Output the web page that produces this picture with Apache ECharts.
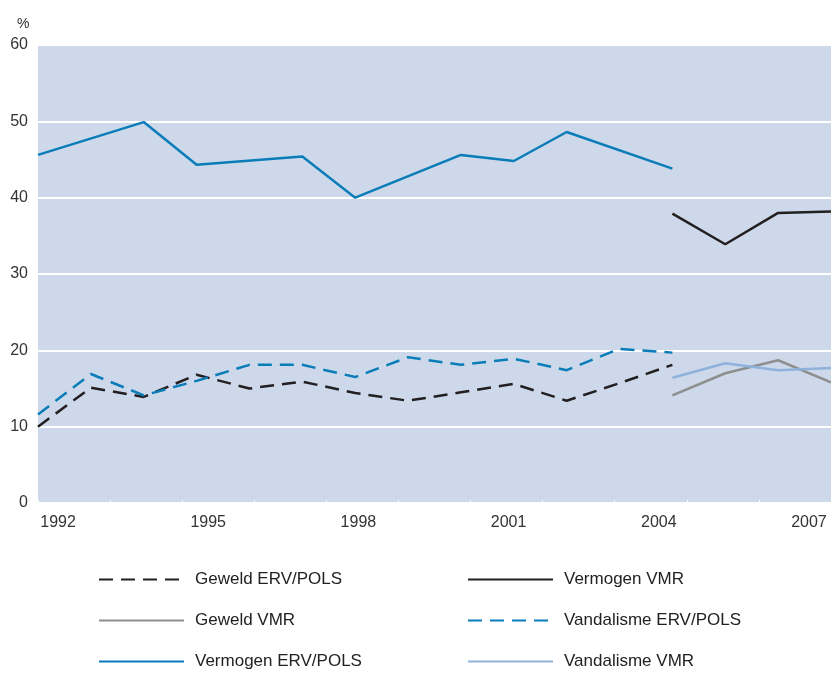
<!DOCTYPE html>
<html>
<head>
<meta charset="utf-8">
<script src="https://cdn.jsdelivr.net/npm/echarts@6/dist/echarts.min.js"></script>
<style>
  html, body { margin: 0; padding: 0; background: #fff; }
  #chart { width: 831px; height: 673px; }
</style>
</head>
<body>
<div id="chart"></div>
<script>
// ---- data ----
const years = [1992, 1993, 1994, 1995, 1996, 1997, 1998, 1999, 2000, 2001, 2002, 2003, 2004, 2005, 2006, 2007];
const geweldErv     = [10.0, 15.1, 13.9, 16.8, 15.0, 15.9, 14.4, 13.4, 14.5, 15.6, 13.4, 15.7, 18.1, null, null, null];
const vandalismeErv = [11.6, 16.9, 14.1, 16.0, 18.1, 18.1, 16.5, 19.1, 18.1, 18.9, 17.4, 20.2, 19.7, null, null, null];
const vermogenErv   = [45.6, null, 49.9, 44.3, null, 45.4, 40.0, null, 45.6, 44.8, 48.6, null, 43.8, null, null, null];
const vermogenVmr   = [null, null, null, null, null, null, null, null, null, null, null, null, 37.9, 33.9, 38.0, 38.2];
const geweldVmr     = [null, null, null, null, null, null, null, null, null, null, null, null, 14.1, 17.0, 18.7, 15.8];
const vandalismeVmr = [null, null, null, null, null, null, null, null, null, null, null, null, 16.4, 18.3, 17.4, 17.7];
const yearLabels = [1992, 1995, 1998, 2001, 2004, 2007];
const yTicks = [0, 10, 20, 30, 40, 50, 60];

const font = '"Liberation Sans", Arial, sans-serif';
const pair = arr => years.map((y, i) => [y, arr[i]]);

function line(name, data, color, width, dashed) {
  return {
    name: name, type: 'line', data: pair(data), xAxisIndex: 0,
    symbol: 'none', connectNulls: true,
    lineStyle: { color: color, width: width, type: dashed ? [14, 8] : 'solid', cap: 'butt' },
    itemStyle: { color: color },
    emphasis: { disabled: true }, animation: false
  };
}

const chart = echarts.init(document.getElementById('chart'), null, { renderer: 'canvas' });
const legendCommon = {
  orient: 'vertical', itemWidth: 85, itemHeight: 14, itemGap: 24, padding: 0,
  itemStyle: { opacity: 0 },
  textStyle: { fontFamily: font, fontSize: 17, color: '#222', padding: [0, 0, 0, 6] },
  selectedMode: false
};
chart.setOption({
  animation: false,
  title: { text: '%', left: 12, top: 12, textStyle: { fontFamily: font, fontSize: 14, fontWeight: 'normal', color: '#333' } },
  grid: { left: 38, right: 0, top: 45, bottom: 170, show: true, backgroundColor: '#cdd9ea', borderWidth: 0 },
  legend: [
    Object.assign({ left: 98, top: 571, data: ['Geweld ERV/POLS', 'Geweld VMR', 'Vermogen ERV/POLS'] }, legendCommon),
    Object.assign({ left: 467, top: 571, data: ['Vermogen VMR', 'Vandalisme ERV/POLS', 'Vandalisme VMR'] }, legendCommon)
  ],
  xAxis: [
    { type: 'value', min: years[0], max: years[years.length - 1], show: false, position: 'bottom', offset: 0 },
    { type: 'value', min: 1991.6, max: 2007.44, position: 'bottom', offset: 0,
      axisLine: { show: false }, axisTick: { show: false }, splitLine: { show: false },
      axisLabel: { customValues: yearLabels, formatter: v => String(v), fontFamily: font, fontSize: 16, color: '#333', margin: 12 } },
    { type: 'value', min: 0, max: 11, interval: 1, position: 'bottom', offset: 0,
      axisLine: { show: false }, axisLabel: { show: false }, splitLine: { show: false },
      axisTick: { show: true, inside: true, length: 3, lineStyle: { color: '#ffffff', width: 1 } } }
  ],
  yAxis: {
    type: 'value', min: 0, max: 60, interval: 10,
    axisLine: { show: false }, axisTick: { show: false },
    splitLine: { show: true, lineStyle: { color: '#ffffff', width: 2 } },
    axisLabel: { fontFamily: font, fontSize: 16, color: '#333', margin: 10,
      formatter: v => (yTicks.indexOf(v) >= 0 ? String(v) : '') }
  },
  series: [
    line('Geweld ERV/POLS', geweldErv, '#231f20', 2.5, true),
    line('Vandalisme ERV/POLS', vandalismeErv, '#0a7db8', 2.5, true),
    line('Vermogen ERV/POLS', vermogenErv, '#0a7db8', 2.5, false),
    line('Vermogen VMR', vermogenVmr, '#231f20', 2.5, false),
    line('Geweld VMR', geweldVmr, '#8e8e8e', 2.5, false),
    line('Vandalisme VMR', vandalismeVmr, '#8fb2dc', 2.5, false)
  ]
});
</script>
</body>
</html>
